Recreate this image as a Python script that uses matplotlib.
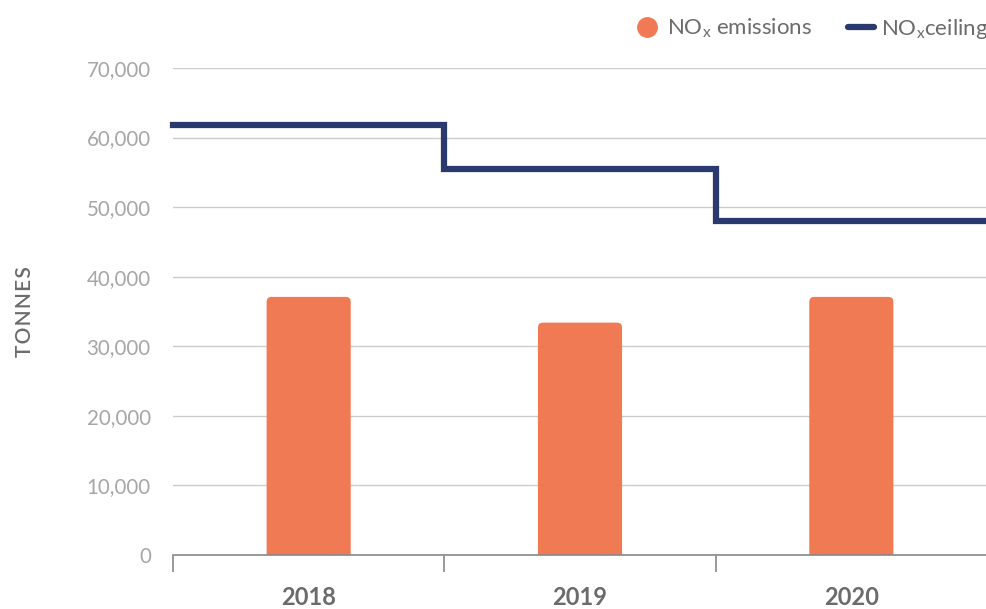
import matplotlib.pyplot as plt
from matplotlib.lines import Line2D
from matplotlib.patches import FancyBboxPatch
import numpy as np

plt.rcParams['font.family'] = ['Lato', 'DejaVu Sans']

years = ['2018', '2019', '2020']
emissions = [37100, 33400, 37100]
ceiling = [61800, 55500, 48000]

bar_color = '#F07A53'
line_color = '#2B3A6E'
grid_color = '#cccccc'

fig = plt.figure(figsize=(9.87, 6.09), dpi=100)
ax = fig.add_axes([173 / 987, 1 - 555 / 609, 814 / 987, (555 - 68) / 609])

x = np.arange(len(years))
bars = ax.bar(x, emissions, width=0.31, color=bar_color, zorder=2)

# swap the plain bars for ones with rounded top corners
rx, ry = 0.018, 720
for b in bars:
    b.set_visible(False)
    p = FancyBboxPatch((b.get_x(), -ry), b.get_width(), b.get_height() + ry,
                       boxstyle=f'round,pad=0,rounding_size={rx}',
                       mutation_aspect=ry / rx, fc=bar_color, ec='none', zorder=2)
    ax.add_patch(p)

# ceiling as a step line across each year's slot
xs = np.append(x - 0.5, x[-1] + 0.5)
ys = ceiling + [ceiling[-1]]
ax.step(xs, ys, where='post', color=line_color, lw=4.5, zorder=3,
        solid_joinstyle='miter', clip_on=False)

ax.set_xlim(-0.5, len(years) - 0.5)
ax.set_ylim(0, 70000)
ax.set_yticks(np.arange(0, 70001, 10000))
ax.set_yticklabels([f'{v:,}' for v in range(0, 70001, 10000)])
ax.yaxis.grid(True, color=grid_color, lw=1, zorder=0)
ax.tick_params(axis='y', length=0, pad=16, labelsize=14.8, labelcolor='#a6a6a6')

ax.set_xticks(x)
ax.set_xticklabels(years)
ax.set_xticks(np.arange(len(years) + 1) - 0.5, minor=True)
ax.tick_params(axis='x', which='major', length=0, pad=22, labelsize=17,
               labelcolor='#6b6b6b')
for lbl in ax.get_xticklabels():
    lbl.set_fontweight('bold')
ax.tick_params(axis='x', which='minor', length=12, color='#888888', width=1.2)

for s in ['top', 'right', 'left']:
    ax.spines[s].set_visible(False)
ax.spines['bottom'].set_color('#888888')
ax.spines['bottom'].set_linewidth(1.2)

fig.text(25 / 987, 1 - 312 / 609, 'T\u200aO\u200aN\u200aN\u200aE\u200aS', rotation=90,
         fontsize=15, color='#6b6b6b', fontweight='semibold', ha='center', va='center')

handles = [
    Line2D([], [], marker='o', ls='none', color=bar_color, markersize=14),
    Line2D([], [], color=line_color, lw=4.5, solid_capstyle='round'),
]
labels = ['NO$_\\mathregular{x}$ emissions', 'NO$_\\mathregular{x}$ceiling']
fig.legend(handles, labels, loc='upper right', bbox_to_anchor=(1.018, 1.0), ncol=2,
           frameon=False, fontsize=16, labelcolor='#6b6b6b', handlelength=1.2,
           handletextpad=0.3, columnspacing=1.6, borderaxespad=0.35)

fig.savefig('out.png', dpi=100)
